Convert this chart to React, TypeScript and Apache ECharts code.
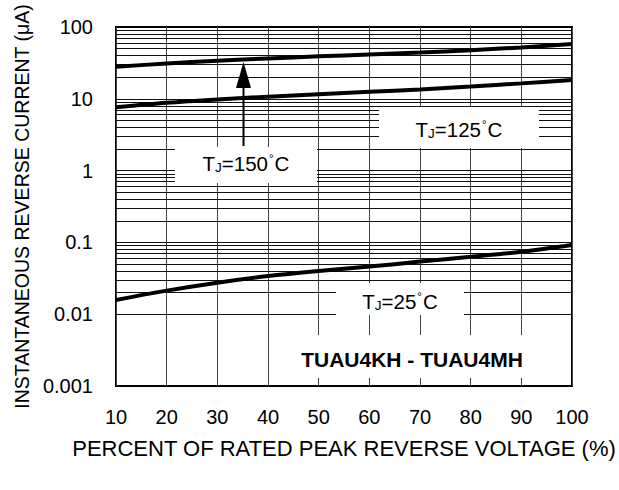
import React, { useEffect, useRef } from "react";
import * as echarts from "echarts";

const FONT = "'Liberation Sans', Arial, Helvetica, sans-serif";

// Data
const xValues = [10, 20, 30, 40, 50, 60, 70, 80, 90, 100];
const tj150 = [28, 31, 34, 36.5, 39, 41.5, 44, 47.5, 52, 58];
const tj125 = [7.6, 8.8, 9.8, 10.7, 11.6, 12.5, 13.5, 14.8, 16.4, 18.3];
const tj25 = [0.0158, 0.0213, 0.0275, 0.034, 0.04, 0.046, 0.054, 0.063, 0.074, 0.092];

const yTickLabels = ["0.001", "0.01", "0.1", "1", "10", "100"];
const decades = [0.001, 0.01, 0.1, 1, 10];
const yTitle = "INSTANTANEOUS REVERSE CURRENT (μA)";
const xTitle = "PERCENT OF RATED PEAK REVERSE VOLTAGE (%)";
const partLabel = "TUAU4KH - TUAU4MH";

function gridValues(): number[] {
  const out: number[] = [];
  decades.forEach((d, i) => {
    if (i > 0) out.push(d);
    for (let k = 2; k <= 9; k++) out.push(+(k * d).toPrecision(3));
  });
  return out;
}

function pairs(vals: number[]) {
  return xValues.map((x, i) => [x, vals[i]]);
}

const rich = {
  t: { fontSize: 20.5, fontFamily: FONT, color: "#000", lineHeight: 23 },
  s: { fontSize: 13.5, fontFamily: FONT, color: "#000", lineHeight: 12, verticalAlign: "bottom" },
  d: { fontSize: 11.5, fontFamily: FONT, color: "#000", lineHeight: 23, verticalAlign: "top", padding: [0, 1, 0, 1] },
};

function tjLabel(temp: string, x: number, y: number) {
  return {
    type: "text",
    x,
    y,
    z: 101,
    silent: true,
    style: {
      text: `{t|T}{s|J}{t|=${temp}}{d|°}{t|C}`,
      rich,
      align: "center",
      verticalAlign: "middle",
    },
  };
}

function whiteBox(x1: number, y1: number, x2: number, y2: number) {
  return {
    type: "rect",
    z: 100,
    silent: true,
    shape: { x: x1, y: y1, width: x2 - x1, height: y2 - y1 },
    style: { fill: "#fff" },
  };
}

export default function App() {
  const ref = useRef<HTMLDivElement>(null);
  useEffect(() => {
    if (!ref.current) return;
    const chart = echarts.init(ref.current, null, { renderer: "svg" });
    const curve = (name: string, vals: number[]) => ({
      name,
      type: "line",
      data: pairs(vals),
      smooth: 0.3,
      symbol: "none",
      z: 5,
      lineStyle: { color: "#000", width: 4 },
      silent: true,
    });
    chart.setOption({
      animation: false,
      backgroundColor: "#fff",
      grid: {
        left: 116,
        right: 47,
        top: 27,
        bottom: 104,
        show: true,
        borderColor: "#000",
        borderWidth: 2,
        backgroundColor: "transparent",
      },
      xAxis: {
        type: "value",
        min: 10,
        max: 100,
        interval: 10,
        axisLine: { show: false },
        axisTick: { show: false },
        splitLine: { show: true, lineStyle: { color: "#444", width: 1 } },
        axisLabel: { fontSize: 20, fontFamily: FONT, color: "#000", margin: 21 },
        name: xTitle,
        nameLocation: "middle",
        nameGap: 51,
        nameTextStyle: { fontSize: 22, fontFamily: FONT, color: "#000" },
      },
      yAxis: {
        type: "log",
        logBase: 10,
        min: 0.001,
        max: 100,
        axisLine: { show: false },
        axisTick: { show: false },
        splitLine: { show: false },
        axisLabel: {
          fontSize: 20,
          fontFamily: FONT,
          color: "#000",
          margin: 23,
          formatter: (v: number) => yTickLabels[Math.round(Math.log10(v)) + 3] ?? "",
        },
        name: yTitle,
        nameLocation: "middle",
        nameRotate: 90,
        nameGap: 83,
        nameTextStyle: { fontSize: 19.5, fontFamily: FONT, color: "#000" },
      },
      series: [
        {
          type: "line",
          data: [],
          z: 1,
          silent: true,
          markLine: {
            silent: true,
            symbol: ["none", "none"],
            label: { show: false },
            emphasis: { disabled: true },
            lineStyle: { color: "#111", width: 1, type: "solid" },
            data: gridValues().map((v) => ({ yAxis: v })),
          },
        },
        curve("TJ=150°C", tj150),
        curve("TJ=125°C", tj125),
        curve("TJ=25°C", tj25),
      ],
      graphic: [
        whiteBox(175, 147, 317, 183),
        whiteBox(379, 107, 539, 148),
        whiteBox(336, 283, 464, 315),
        whiteBox(280, 335, 562, 378),
        tjLabel("150", 246, 163),
        tjLabel("125", 459, 129),
        tjLabel("25", 400, 301),
        {
          type: "text",
          x: 412,
          y: 359,
          z: 101,
          silent: true,
          style: {
            text: partLabel,
            font: `bold 21px ${FONT}`,
            fill: "#000",
            align: "center",
            verticalAlign: "middle",
          },
        },
        {
          type: "line",
          z: 102,
          silent: true,
          shape: { x1: 243.5, y1: 146, x2: 243.5, y2: 86 },
          style: { stroke: "#000", lineWidth: 2 },
        },
        {
          type: "polygon",
          z: 102,
          silent: true,
          shape: { points: [[243.5, 62], [236, 88], [251, 88]] },
          style: { fill: "#000" },
        },
      ],
    });
    return () => chart.dispose();
  }, []);
  return (
    <div
      ref={ref}
      style={{ position: "fixed", left: 0, top: 0, width: 619, height: 490 }}
    />
  );
}
